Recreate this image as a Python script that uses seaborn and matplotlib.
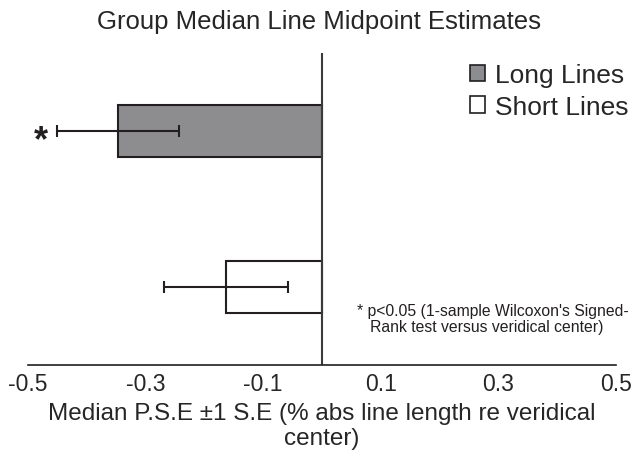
import matplotlib
matplotlib.use('Agg')
import matplotlib.pyplot as plt
import seaborn as sns
import pandas as pd
from matplotlib.patches import Patch

groups = ['Long Lines', 'Short Lines']
medians = [-0.347, -0.163]
std_err = [0.104, 0.105]
x_ticks = [-0.5, -0.3, -0.1, 0.1, 0.3, 0.5]
fills = ['#8c8d90', '#ffffff']
edge = '#231f20'

df = pd.DataFrame({'group': groups, 'median': medians, 'se': std_err})

sns.set_style('white')
plt.rcParams['font.family'] = ['Liberation Sans', 'DejaVu Sans']

fig = plt.figure(figsize=(6.33, 4.56), dpi=100)
ax = fig.add_axes([0.0442, 0.197, 0.929, 0.684])

sns.barplot(data=df, x='median', y='group', hue='group', palette=fills,
            edgecolor=edge, linewidth=1.5, width=0.333, legend=False, ax=ax)
ax.errorbar(df['median'], range(len(df)), xerr=df['se'], fmt='none',
            ecolor=edge, elinewidth=1.5, capsize=4, capthick=1.5)

ax.axvline(0, color='#3a3a3a', lw=1.5)
ax.set_xlim(-0.5, 0.5)
ax.set_ylim(1.5, -0.5)
ax.set_xticks(x_ticks)
ax.set_xticklabels([f'{t:.1f}' for t in x_ticks], fontsize=16.5)
ax.set_yticks([])
ax.set_ylabel('')
ax.tick_params(axis='x', direction='in', length=6, width=1.2, color=edge, pad=5)
for s in ['top', 'left', 'right']:
    ax.spines[s].set_visible(False)
ax.spines['bottom'].set_color(edge)
ax.spines['bottom'].set_linewidth(1.2)

ax.set_xlabel('Median P.S.E \u00b11 S.E (% abs line length re veridical\ncenter)',
              fontsize=17.5, linespacing=1.15, labelpad=5)
fig.text(0.504, 0.952, 'Group Median Line Midpoint Estimates', ha='center',
         va='center', fontsize=18.5)

handles = [Patch(facecolor=f, edgecolor=edge, linewidth=1.2) for f in fills]
fig.legend(handles, groups, loc='upper left', bbox_to_anchor=(470 / 633, 1 - 64 / 456),
           frameon=False, fontsize=19, handlelength=0.57, handleheight=0.57,
           handletextpad=0.38, labelspacing=0.3, borderaxespad=0, borderpad=0)

ax.text(-0.478, 0.06, '*', fontsize=26, fontweight='bold', ha='center',
        va='center', color=edge)
ax.text(0.06, 1.2, '* p<0.05 (1-sample Wilcoxon\'s Signed-\n   Rank test versus veridical center)',
        fontsize=11.3, va='center', ha='left', color=edge, linespacing=1.05)

fig.savefig('out.png', dpi=100)
